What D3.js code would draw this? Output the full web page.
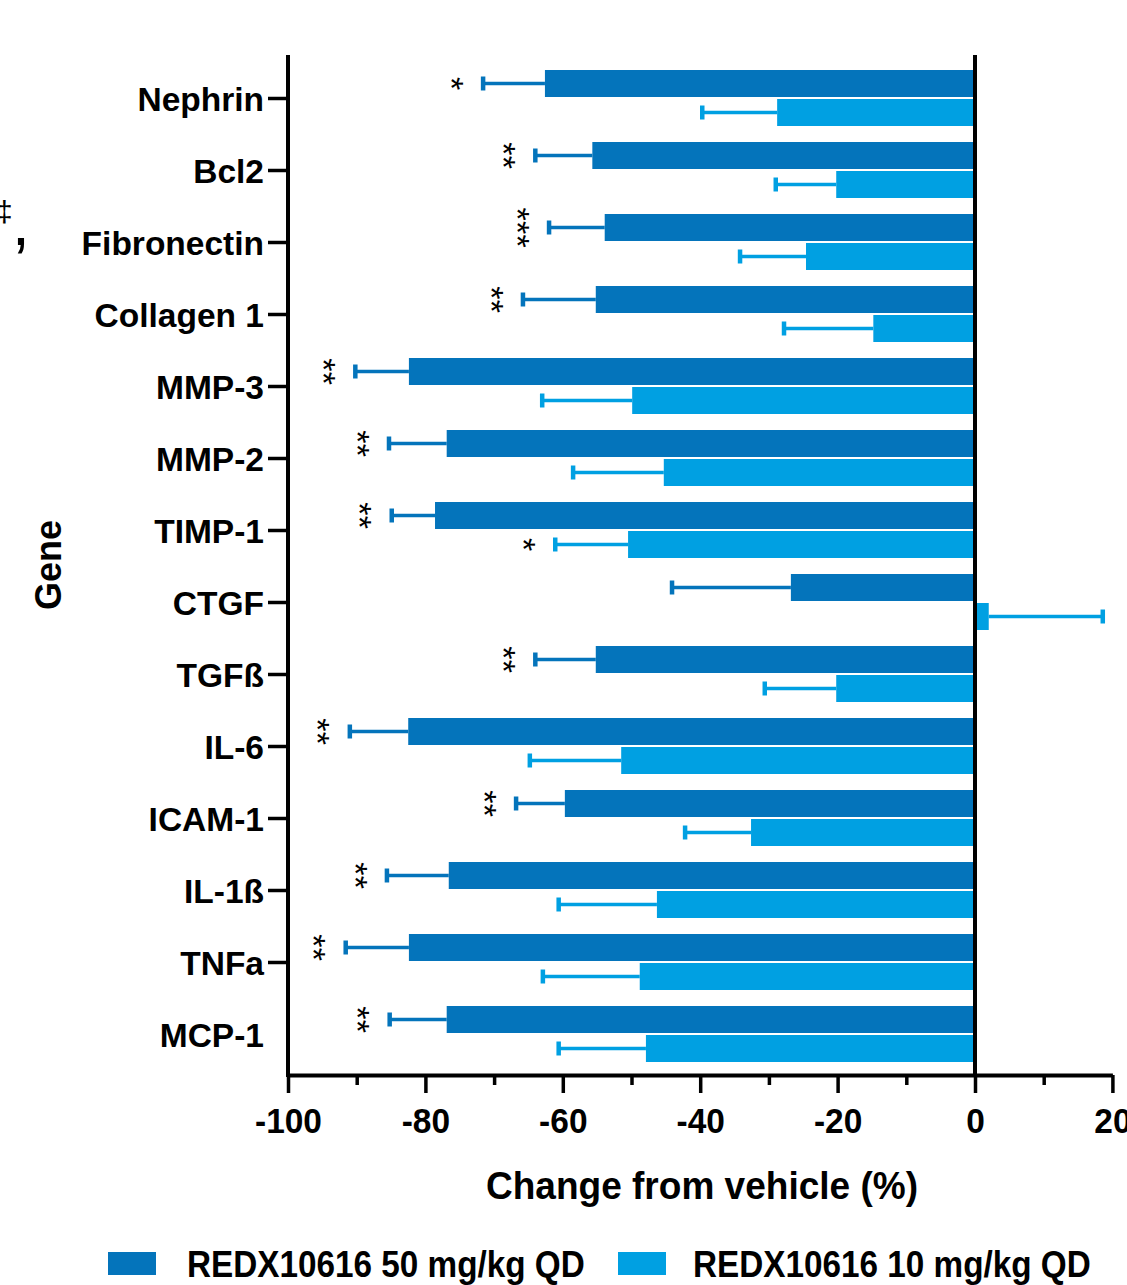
<!DOCTYPE html>
<html><head><meta charset="utf-8">
<script src="https://cdn.jsdelivr.net/npm/d3@7"></script>
<style>
body{margin:0;background:#fff}
svg{display:block}
text{font-family:"Liberation Sans",Arial,sans-serif;font-weight:bold;fill:#000}
</style>
</head><body>
<svg id="c" width="1127" height="1285"></svg>
<script>
// ---- data ----
const genes = ["Nephrin","Bcl2","Fibronectin","Collagen 1","MMP-3","MMP-2","TIMP-1","CTGF","TGFß","IL-6","ICAM-1","IL-1ß","TNFa","MCP-1"];
const mean50 = [-62.6,-55.7,-53.9,-55.2,-82.4,-76.9,-78.6,-26.8,-55.2,-82.5,-59.7,-76.6,-82.4,-76.9];
const err50  = [9.0,8.3,8.1,10.6,7.8,8.4,6.3,17.3,8.8,8.5,7.1,9.0,9.2,8.3];
const mean10 = [-28.8,-20.2,-24.6,-14.8,-49.9,-45.3,-50.5,2.0,-20.2,-51.5,-32.6,-46.3,-48.8,-47.9];
const err10  = [10.9,8.8,9.6,13.0,13.1,13.2,10.6,16.6,10.4,13.3,9.6,14.3,14.1,12.7];
const sig50  = ["*","**","***","**","**","**","**","","**","**","**","**","**","**"];
const sig10  = ["","","","","","","*","","","","","","",""];
const seriesNames = ["REDX10616 50 mg/kg QD","REDX10616 10 mg/kg QD"];
const majorTicks = [-100,-80,-60,-40,-20,0,20];
const minorTicks = [-90,-70,-50,-30,-10,10];
const xTitle = "Change from vehicle (%)";
const yTitle = "Gene";

const colors = ["#0474BB","#00A0E2"];

const svg = d3.select("#c");
const x = d3.scaleLinear().domain([-100,20]).range([288,1112.4]);
const y = d3.scalePoint().domain(genes).range([98,1034]);
const barH = 27, gap = 1;
const x0 = x(0);

const series = [
  {means:mean50, errs:err50, sig:sig50, color:colors[0], off:-gap-barH},
  {means:mean10, errs:err10, sig:sig10, color:colors[1], off:gap}
];

// cropped neighbour panel remnants
svg.append("text").attr("x",-4).attr("y",222).style("font-size","30px").style("font-weight","normal").text("‡");
svg.append("text").attr("x",12).attr("y",245).style("font-size","64px").style("font-weight","normal").text(",");

series.forEach(s=>{
  const g = svg.append("g");
  genes.forEach((gn,i)=>{
    const v = s.means[i];
    const yt = y(gn)+s.off;
    const yc = yt+barH/2;
    g.append("rect")
      .attr("x", Math.min(x(v),x0)).attr("width", Math.abs(x(v)-x0))
      .attr("y", yt).attr("height", barH).attr("fill", s.color);
    const end = v + Math.sign(v)*s.errs[i];
    g.append("line").attr("x1",x(v)).attr("x2",x(end)).attr("y1",yc).attr("y2",yc)
      .attr("stroke",s.color).attr("stroke-width",3.5);
    g.append("line").attr("x1",x(end)).attr("x2",x(end)).attr("y1",yc-7).attr("y2",yc+7)
      .attr("stroke",s.color).attr("stroke-width",4.5);
    const st = s.sig[i];
    if(st){
      const sx = x(end) + Math.sign(v)*23;
      const n = st.length;
      for(let k=0;k<n;k++){
        const cy = yc + (k-(n-1)/2)*13.5;
        svg.append("text")
          .attr("transform",`translate(${sx},${cy}) rotate(90)`)
          .attr("text-anchor","middle").attr("dy","0.6em")
          .style("font-size","34px").style("font-weight","normal").text("*");
      }
    }
  });
});

// zero line
svg.append("line").attr("x1",x0).attr("x2",x0).attr("y1",55).attr("y2",1075)
  .attr("stroke","#000").attr("stroke-width",4);

// y axis
const yAxis = svg.append("g").attr("transform","translate(288,0)")
  .call(d3.axisLeft(y).tickSize(20).tickSizeOuter(0).tickPadding(3));
yAxis.select(".domain").remove();
yAxis.selectAll(".tick line").attr("stroke","#000").attr("stroke-width",3.5)
  .attr("opacity",d=>d==="MCP-1"?0:1);
yAxis.selectAll(".tick text").style("font-size","33.5px").attr("dy","0.36em").attr("x",-24);
svg.append("line").attr("x1",288).attr("x2",288).attr("y1",55).attr("y2",1077)
  .attr("stroke","#000").attr("stroke-width",4);

// x axis
const xAxisMinor = svg.append("g").attr("transform","translate(0,1075)")
  .call(d3.axisBottom(x).tickValues(minorTicks).tickSize(10).tickFormat(""));
xAxisMinor.select(".domain").remove();
xAxisMinor.selectAll(".tick line").attr("stroke","#000").attr("stroke-width",3.5);

const xAxis = svg.append("g").attr("transform","translate(0,1075)")
  .call(d3.axisBottom(x).tickValues(majorTicks).tickSize(18).tickSizeOuter(0).tickFormat(d3.format("d")));
xAxis.select(".domain").attr("stroke","#000").attr("stroke-width",4);
xAxis.selectAll(".tick line").attr("stroke","#000").attr("stroke-width",3.5);
xAxis.selectAll(".tick text").attr("y",0).attr("dy",0)
  .attr("transform","translate(0,58) scale(0.93,1)")
  .style("font-size","36px").text(d=>d<0?"-"+Math.abs(d):d);

// axis titles
svg.append("text").attr("transform","translate(61,565) rotate(-90)")
  .attr("text-anchor","middle").style("font-size","36px").text(yTitle);
svg.append("text").attr("transform","translate(702,1199) scale(0.95,1)")
  .attr("text-anchor","middle").style("font-size","39px").text(xTitle);

// legend
const legX = [108,618], txtX=[187,693];
seriesNames.forEach((nm,i)=>{
  svg.append("rect").attr("x",legX[i]).attr("y",1252).attr("width",48).attr("height",23).attr("fill",colors[i]);
  svg.append("text").attr("transform",`translate(${txtX[i]},1277) scale(0.9,1)`)
    .style("font-size","37px").text(nm);
});
</script>
</body></html>
